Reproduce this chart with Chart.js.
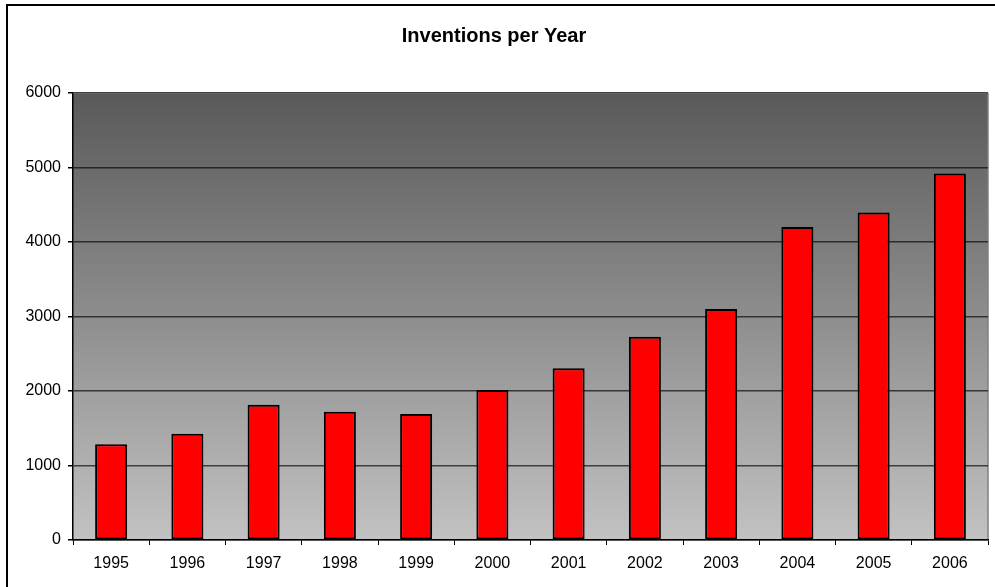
<!DOCTYPE html>
<html>
<head>
<meta charset="utf-8">
<title>Inventions per Year</title>
<script src="https://cdn.jsdelivr.net/npm/chart.js@4"></script>
<style>
  html, body { margin: 0; padding: 0; background: #fff; }
  canvas { display: block; }
</style>
</head>
<body>
<canvas id="inventionsChart" width="995" height="587"></canvas>
<script>
const years = ['1995', '1996', '1997', '1998', '1999', '2000', '2001', '2002', '2003', '2004', '2005', '2006'];
const inventions = [1284, 1425, 1815, 1720, 1690, 2015, 2305, 2727, 3100, 4200, 4395, 4920];
const yTicks = [0, 1000, 2000, 3000, 4000, 5000, 6000];

// grey gradient behind the plot, plus the outer frame
const backdrop = {
    id: 'backdrop',
    beforeDraw(chart) {
        const ctx = chart.ctx;
        const a = chart.chartArea;
        ctx.save();
        ctx.strokeStyle = '#000';
        ctx.lineWidth = 2;
        ctx.beginPath();
        ctx.moveTo(7, 600);
        ctx.lineTo(7, 5);
        ctx.lineTo(1000, 5);
        ctx.stroke();

        const g = ctx.createLinearGradient(0, a.top, 0, a.bottom);
        g.addColorStop(0, '#595959');
        g.addColorStop(1, '#c2c2c2');
        ctx.fillStyle = g;
        ctx.fillRect(a.left, a.top, a.right - a.left, a.bottom - a.top);

        ctx.lineWidth = 1.5;
        ctx.strokeStyle = '#a8a8a8';
        ctx.beginPath();
        ctx.moveTo(a.left, a.top);
        ctx.lineTo(a.right, a.top);
        ctx.stroke();
        ctx.strokeStyle = '#7f7f7f';
        ctx.beginPath();
        ctx.moveTo(a.right, a.top);
        ctx.lineTo(a.right, a.bottom);
        ctx.stroke();
        ctx.restore();
    }
};

const ctx = document.getElementById('inventionsChart').getContext('2d');
new Chart(ctx, {
    type: 'bar',
    data: {
        labels: years,
        datasets: [{
            label: 'Inventions',
            data: inventions,
            backgroundColor: '#ff0000',
            borderColor: '#000',
            borderWidth: 2,
            borderSkipped: false,
            barPercentage: 0.42,
            categoryPercentage: 1
        }]
    },
    options: {
        responsive: false,
        animation: false,
        layout: { padding: { left: 0, right: 7, top: 0, bottom: 0 } },
        plugins: {
            legend: { display: false },
            tooltip: { enabled: false },
            title: {
                display: true,
                text: 'Inventions per Year',
                color: '#000',
                font: { family: 'Liberation Sans, Arial, sans-serif', size: 20, weight: 'bold' },
                padding: { top: 24, bottom: 45 }
            }
        },
        scales: {
            x: {
                grid: { drawOnChartArea: false, offset: true, tickLength: 5, tickColor: '#000', tickWidth: 1 },
                border: { color: '#000', width: 1.5 },
                ticks: {
                    color: '#000',
                    padding: 9,
                    font: { family: 'Liberation Sans, Arial, sans-serif', size: 16 }
                },
                afterFit(scale) { scale.height = 47; }
            },
            y: {
                min: 0,
                max: 6000,
                afterBuildTicks(scale) { scale.ticks = yTicks.map(v => ({ value: v })); },
                grid: { color: 'rgba(0,0,0,0.65)', lineWidth: 1.5, tickLength: 5, tickColor: '#000' },
                border: { color: '#000', width: 1.5 },
                ticks: {
                    color: '#000',
                    padding: 7,
                    font: { family: 'Liberation Sans, Arial, sans-serif', size: 16 },
                    callback: v => String(v)
                },
                afterFit(scale) { scale.width = 73; }
            }
        }
    },
    plugins: [backdrop]
});
</script>
</body>
</html>
